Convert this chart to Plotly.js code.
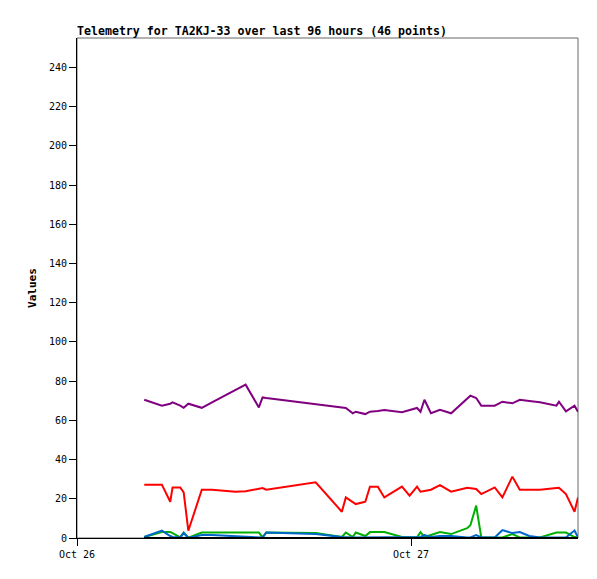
<!DOCTYPE html>
<html>
<head>
<meta charset="utf-8">
<script src="https://cdn.plot.ly/plotly-3.0.1.min.js"></script>
<style>html,body{margin:0;padding:0;background:#fff;}#chart{width:597px;height:579px;}</style>
</head>
<body>
<div id="chart"></div>
<script>
var times = [
  '2024-10-26 04:50','2024-10-26 06:06','2024-10-26 06:42','2024-10-26 06:52','2024-10-26 07:25',
  '2024-10-26 07:40','2024-10-26 08:00','2024-10-26 08:58','2024-10-26 09:42','2024-10-26 11:23',
  '2024-10-26 12:07','2024-10-26 13:04','2024-10-26 13:20','2024-10-26 13:36','2024-10-26 17:09',
  '2024-10-26 19:02','2024-10-26 19:19','2024-10-26 19:49','2024-10-26 20:02','2024-10-26 20:43',
  '2024-10-26 21:03','2024-10-26 21:37','2024-10-26 22:05','2024-10-26 23:21','2024-10-26 23:54',
  '2024-10-27 00:26','2024-10-27 00:41','2024-10-27 00:58','2024-10-27 01:26','2024-10-27 02:05',
  '2024-10-27 02:53','2024-10-27 04:02','2024-10-27 04:16','2024-10-27 04:41','2024-10-27 05:03',
  '2024-10-27 06:01','2024-10-27 06:34','2024-10-27 07:17','2024-10-27 07:49','2024-10-27 08:30',
  '2024-10-27 09:16','2024-10-27 10:27','2024-10-27 10:38','2024-10-27 11:08','2024-10-27 11:45',
  '2024-10-27 12:00'
];
var purpleVals = [70.5,67.5,68.5,69.2,67.5,66.4,68.5,66.4,69.2,75.5,
  78.2,66.6,71.7,71.4,68.3,66.6,66.3,63.6,64.4,63.2,
  64.4,64.8,65.3,64.1,65.2,66.3,64.4,70.5,63.6,65.4,
  63.6,70.9,72.6,71.4,67.5,67.5,69.5,68.7,70.5,69.9,
  69.2,67.5,69.5,64.6,67.5,64.4];
var redVals = [27.2,27.2,18.5,25.8,25.8,23.3,3.7,24.6,24.6,23.6,
  23.8,25.2,25.5,24.6,28.4,13.4,20.7,18.3,17.3,18.5,
  26.2,26.2,20.7,26.2,21.6,26.2,23.6,24.0,24.6,27.0,
  23.6,25.6,25.3,25.0,22.4,25.8,20.7,31.3,24.6,24.6,
  24.6,25.5,25.6,22.4,13.4,20.7];
var greenVals = [0.5,3.0,3.0,2.5,0.3,2.8,0.2,2.8,2.8,2.8,
  2.8,2.8,0.3,2.8,2.6,0.5,2.8,0.5,2.8,1.0,
  3.0,3.0,3.0,0.5,0.3,0.3,3.0,0.5,1.5,3.0,
  2.0,5.0,6.5,16.5,0.3,0.3,0.3,2.0,0.3,0.3,
  0.3,2.8,2.8,2.8,0.5,0.3];
var blueVals = [0.5,3.8,1.0,0.5,0.3,2.5,0.0,1.5,1.5,1.0,
  0.8,0.5,0.2,2.8,2.0,0.5,0.3,0.3,0.3,0.3,
  0.3,0.3,0.3,0.3,0.3,0.3,0.5,1.5,0.5,1.0,
  1.0,0.3,0.3,1.5,0.3,0.3,4.0,2.5,3.0,1.0,
  0.3,0.3,0.3,0.3,3.8,0.3];
var blackVals = [0,0,0,0,0,0,0,0,0,0,0,0,0,0,0,0,0,0,0,0,0,0,0,0,0,0,0,0,0,0,0,0,0,0,0,0,0,0,0,0,0,0,0,0,0,0];
var tickVals = ['2024-10-26','2024-10-27'];
var tickText = ['Oct 26','Oct 27'];
var yTicks = [0,20,40,60,80,100,120,140,160,180,200,220,240];

function tr(y, color) {
  return {x: times, y: y, type: 'scatter', mode: 'lines',
          line: {color: color, width: 2}, hoverinfo: 'skip', showlegend: false};
}
var data = [
  tr(purpleVals, '#800080'),
  tr(redVals, '#ff0000'),
  tr(greenVals, '#00b000'),
  tr(blueVals, '#0066cc'),
  tr(blackVals, '#000000')
];
var mono = 'DejaVu Sans Mono, monospace';
var layout = {
  width: 597, height: 579,
  margin: {l: 77, r: 19, t: 38, b: 41},
  paper_bgcolor: '#ffffff', plot_bgcolor: '#ffffff',
  showlegend: false,
  title: {text: '<b>Telemetry for TA2KJ-33 over last 96 hours (46 points)</b>',
          x: 77/597, xref: 'container', xanchor: 'left',
          y: 1 - 31/579, yref: 'container', yanchor: 'middle',
          font: {family: mono, size: 11.6, color: '#000'}},
  xaxis: {type: 'date', range: ['2024-10-26 00:00', '2024-10-27 12:00'],
          tickvals: tickVals, ticktext: tickText,
          showgrid: false, zeroline: false, showline: true, linecolor: '#000', linewidth: 1,
          ticks: 'outside', ticklen: 7, tickcolor: '#000', tickwidth: 1,
          tickfont: {family: mono, size: 10, color: '#000'}},
  yaxis: {range: [0, 255], tickvals: yTicks,
          showgrid: false, zeroline: false, showline: true, linecolor: '#000', linewidth: 1,
          ticks: 'outside', ticklen: 7, tickcolor: '#000', tickwidth: 1,
          tickfont: {family: mono, size: 10, color: '#000'},
          title: {text: '<b>Values</b>', font: {family: mono, size: 11, color: '#000'}, standoff: 10}},
  shapes: [{type: 'rect', xref: 'paper', yref: 'paper', x0: 0, x1: 1, y0: 0, y1: 1,
            line: {color: '#666666', width: 1}, layer: 'below'}]
};
Plotly.newPlot('chart', data, layout, {displayModeBar: false, staticPlot: true});
</script>
</body>
</html>
